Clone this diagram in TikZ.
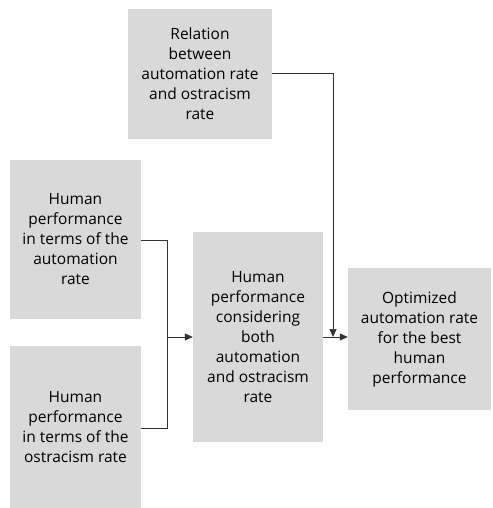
\documentclass[tikz,border=0pt]{standalone}
\usepackage{fontspec}
\setmainfont{Open Sans}
\usetikzlibrary{arrows.meta}
\begin{document}
\begin{tikzpicture}[x=1pt,y=-1pt,
  box/.style={fill=boxgray, draw=none, inner sep=0pt, align=center,
    font=\fontsize{15.5}{20}\selectfont},
  conn/.style={draw=black!80, line width=0.6pt},
  arr/.style={conn, -{Triangle[length=8pt,width=7pt]}}]
\definecolor{boxgray}{HTML}{D9D9D9}
\useasboundingbox (0,0) rectangle (492,508);
\node[box, minimum width=144pt, minimum height=130pt] (rel) at (200,74)
  {Relation\\between\\automation rate\\and ostracism\\rate};
\node[box, minimum width=131pt, minimum height=159pt] (hpa) at (75.5,239)
  {Human\\performance\\in terms of the\\automation\\rate};
\node[box, minimum width=131pt, minimum height=162pt] (hpo) at (75.5,427)
  {Human\\performance\\in terms of the\\ostracism rate};
\node[box, minimum width=130pt, minimum height=210pt] (both) at (258,337)
  {Human\\performance\\considering\\both\\automation\\and ostracism\\rate};
\node[box, minimum width=143pt, minimum height=142pt] (opt) at (419.5,339)
  {Optimized\\automation rate\\for the best\\human\\performance};
\coordinate (j) at (167,337);
\coordinate (k) at (333,337);
\draw[conn] (hpa.east |- 0,240) -| (j);
\draw[conn] (hpo.east |- 0,428) -| (j);
\draw[arr] (j) -- (both.west |- j);
\draw[arr] (rel.east |- 0,73) -| (k);
\draw[arr] (both.east |- k) -- (opt.west |- k);
\end{tikzpicture}
\end{document}
